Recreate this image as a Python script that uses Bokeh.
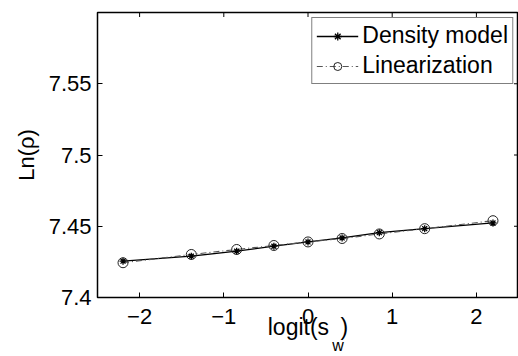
import math
from bokeh.plotting import figure
from bokeh.models import (FixedTicker, LinearAxis, Legend, LegendItem, ColumnDataSource)
from bokeh.embed import file_html
from bokeh.resources import INLINE

# ---- data ----
logit_sw = [-2.197, -1.386, -0.847, -0.405, 0.0, 0.405, 0.847, 1.386, 2.197]
density_model = [7.4255, 7.4290, 7.4325, 7.4360, 7.4390, 7.4418, 7.4455, 7.4483, 7.4523]
linearization = [7.4244, 7.4302, 7.4337, 7.4365, 7.4390, 7.4414, 7.4446, 7.4483, 7.4539]

x_ticks = [-2, -1, 0, 1, 2]
x_tick_labels = ["\u22122", "\u22121", "0", "1", "2"]
y_ticks = [7.4, 7.45, 7.5, 7.55]
y_tick_labels = ["7.4", "7.45", "7.5", "7.55"]

FONT = "Liberation Sans"

src = ColumnDataSource(dict(x=logit_sw, d=density_model, l=linearization))

p = figure(width=518, height=356, x_range=(-2.5, 2.5), y_range=(7.4, 7.6),
           output_backend="svg", toolbar_location=None,
           min_border_left=97, min_border_top=12, min_border_right=0, min_border_bottom=58)

p.background_fill_color = "white"
p.border_fill_color = "white"
p.grid.visible = False
p.outline_line_color = "black"
p.outline_line_width = 1.5
p.outline_line_alpha = 1.0

# bottom axis (ticks + label)
xa = p.xaxis[0]
xa.ticker = FixedTicker(ticks=x_ticks)
xa.major_label_overrides = {t: s for t, s in zip(x_ticks, x_tick_labels)}
xa.major_tick_in = 5
xa.major_tick_out = 0
xa.minor_tick_line_color = None
xa.axis_line_color = None
xa.major_tick_line_color = "black"
xa.major_label_text_font = FONT
xa.major_label_text_font_size = "22px"
xa.major_label_text_color = "black"
xa.major_label_standoff = 11
xa.axis_label = "logit(s\u2002)"
xa.axis_label_text_font = FONT
xa.axis_label_text_font_size = "23px"
xa.axis_label_text_font_style = "normal"
xa.axis_label_text_color = "black"
xa.axis_label_standoff = -13

# subscript "w" of the x label, as a one-tick axis below
w_pos = 0.356
w_axis = LinearAxis(ticker=FixedTicker(ticks=[w_pos]), major_label_overrides={w_pos: "w"},
                    major_tick_in=0, major_tick_out=0, major_tick_line_color=None,
                    minor_tick_line_color=None, axis_line_color=None,
                    major_label_text_font=FONT, major_label_text_font_size="16px",
                    major_label_text_color="black", major_label_standoff=-6)
p.add_layout(w_axis, "below")

# left axis
ya = p.yaxis[0]
ya.ticker = FixedTicker(ticks=y_ticks)
ya.major_label_overrides = {t: s for t, s in zip(y_ticks, y_tick_labels)}
ya.major_tick_in = 5
ya.major_tick_out = 0
ya.minor_tick_line_color = None
ya.axis_line_color = None
ya.major_tick_line_color = "black"
ya.major_label_text_font = FONT
ya.major_label_text_font_size = "22px"
ya.major_label_text_color = "black"
ya.major_label_standoff = 6
ya.axis_label = "Ln(\u03c1)"
ya.axis_label_text_font = FONT
ya.axis_label_text_font_size = "22px"
ya.axis_label_text_font_style = "normal"
ya.axis_label_text_color = "black"
ya.axis_label_standoff = 7

# inward tick marks on top and right edges of the box
p.scatter(x=x_ticks, y=[p.y_range.end] * len(x_ticks), marker="dash", angle=math.pi / 2,
          size=9, line_color="black", line_width=1)
p.scatter(x=[p.x_range.end] * len(y_ticks), y=y_ticks, marker="dash", angle=0,
          size=9, line_color="black", line_width=1)

# data
l1 = p.line("x", "d", source=src, line_color="black", line_width=1.3)
l2 = p.line("x", "l", source=src, line_color="#555555", line_width=1.1, line_dash="6 3 1 3")
m1 = p.scatter("x", "d", source=src, marker="asterisk", size=7, line_color="black", line_width=1.3)
m2 = p.scatter("x", "l", source=src, marker="circle", size=10, fill_color=None,
               line_color="#222222", line_width=1)

legend = Legend(items=[LegendItem(label="Density model", renderers=[l1, m1]),
                       LegendItem(label="Linearization", renderers=[l2, m2])],
                location="top_right")
legend.label_text_font = FONT
legend.label_text_font_size = "23px"
legend.label_text_color = "black"
legend.glyph_width = 42
legend.glyph_height = 20
legend.label_height = 26
legend.label_standoff = 4
legend.padding = 4
legend.spacing = 3
legend.margin = 5
legend.border_line_color = "black"
legend.border_line_width = 1.3
legend.background_fill_color = "white"
legend.background_fill_alpha = 1.0
p.add_layout(legend, "center")

open("out.html", "w").write(file_html(p, INLINE))
